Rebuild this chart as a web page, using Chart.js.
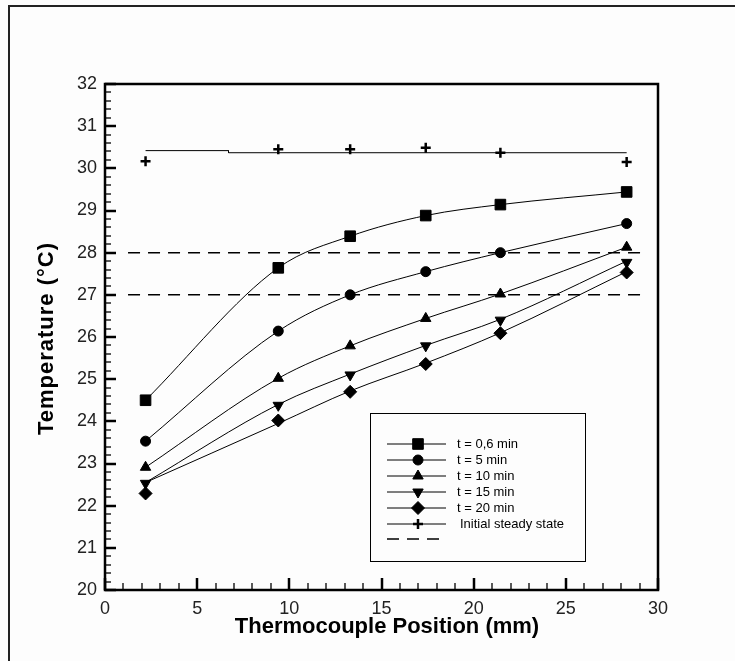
<!DOCTYPE html>
<html lang="en">
<head>
    <meta charset="UTF-8">
    <title>Thermocouple Temperatures</title>
    <script src="https://cdn.jsdelivr.net/npm/chart.js"></script>
    <style>
        html, body {
            margin: 0;
            overflow: hidden;
            background: #fdfdfd;
        }
        .chart-container {
            width: 735px;
            height: 661px;
        }
        canvas {
            display: block;
        }
    </style>
</head>
<body>
    <div class="chart-container">
        <canvas id="tempChart"></canvas>
    </div>

    <script>
        // thermocouple positions (mm)
        const positions = [2.2, 9.4, 13.3, 17.4, 21.45, 28.3];

        // measured temperatures (ºC)
        const t06 = [24.50, 27.64, 28.39, 28.88, 29.14, 29.44];
        const t5 = [23.53, 26.14, 27.00, 27.55, 28.00, 28.69];
        const t10 = [22.91, 25.02, 25.79, 26.44, 27.02, 28.13];
        const t15 = [22.53, 24.38, 25.10, 25.79, 26.40, 27.77];
        const t20 = [22.29, 24.02, 24.70, 25.36, 26.09, 27.53];
        const steady = [30.17, 30.45, 30.45, 30.49, 30.37, 30.15];

        // fitted curves that do not pass exactly through the markers
        const t15Curve = [22.55, 24.40, 25.12, 25.80, 26.42, 27.80];
        const t20Curve = [22.55, 23.95, 24.72, 25.38, 26.10, 27.55];
        const steadyLineX = [2.2, 6.7, 6.7, 28.3];
        const steadyLineY = [30.42, 30.42, 30.37, 30.37];

        // dashed reference levels
        const refLevels = [28, 27];
        const refRange = [1.25, 29.4];

        const seriesLabels = ['t = 0,6 min', 't = 5 min', 't = 10 min', 't = 15 min', 't = 20 min', 'Initial steady state'];

        const markers = [
            { style: 'rect', radius: 7.5, rotation: 0, border: 1 },
            { style: 'circle', radius: 5, rotation: 0, border: 1 },
            { style: 'triangle', radius: 6, rotation: 0, border: 1 },
            { style: 'triangle', radius: 6, rotation: 180, border: 1 },
            { style: 'rectRot', radius: 6.5, rotation: 0, border: 1 },
            { style: 'cross', radius: 5, rotation: 0, border: 2.5 },
        ];

        function pts(xs, ys) {
            return xs.map((x, i) => ({ x: x, y: ys[i] }));
        }

        const curveData = [
            pts(positions, t06),
            pts(positions, t5),
            pts(positions, t10),
            pts(positions, t15Curve),
            pts(positions, t20Curve),
        ];
        const markerData = [t06, t5, t10, t15, t20, steady].map(ys => pts(positions, ys));

        const datasets = [];
        curveData.forEach(d => {
            datasets.push({
                data: d,
                showLine: true,
                borderColor: '#000',
                borderWidth: 1,
                pointRadius: 0,
                cubicInterpolationMode: 'monotone',
            });
        });
        datasets.push({
            data: pts(steadyLineX, steadyLineY),
            showLine: true,
            borderColor: '#000',
            borderWidth: 1,
            pointRadius: 0,
            tension: 0,
        });
        refLevels.forEach(level => {
            datasets.push({
                data: refRange.map(x => ({ x: x, y: level })),
                showLine: true,
                borderColor: '#000',
                borderWidth: 1.5,
                borderDash: [12, 8],
                pointRadius: 0,
            });
        });
        markerData.forEach((d, i) => {
            const m = markers[i];
            datasets.push({
                label: seriesLabels[i],
                data: d,
                showLine: false,
                pointStyle: m.style,
                pointRadius: m.radius,
                pointRotation: m.rotation,
                pointBorderWidth: m.border,
                pointBackgroundColor: '#000',
                pointBorderColor: '#000',
            });
        });

        // inward ticks, plot frame, outer frame, titles and boxed legend
        const decorations = {
            id: 'decorations',
            beforeDraw(chart) {
                const ctx = chart.ctx;
                ctx.save();
                ctx.fillStyle = '#fdfdfd';
                ctx.fillRect(0, 0, chart.width, chart.height);
                ctx.restore();
            },
            afterDraw(chart) {
                const ctx = chart.ctx;
                const area = chart.chartArea;
                const xs = chart.scales.x;
                const ys = chart.scales.y;
                ctx.save();

                // outer frame (only top and left edges are visible)
                ctx.lineWidth = 2;
                ctx.strokeStyle = '#222';
                ctx.beginPath();
                ctx.moveTo(9, chart.height + 5);
                ctx.lineTo(9, 6);
                ctx.lineTo(chart.width + 5, 6);
                ctx.stroke();

                ctx.strokeStyle = '#000';
                // x ticks
                for (let v = 0; v <= 30; v++) {
                    const major = v % 5 === 0;
                    const px = Math.round(xs.getPixelForValue(v));
                    ctx.lineWidth = major ? 2.5 : 1.3;
                    ctx.beginPath();
                    ctx.moveTo(px, area.bottom);
                    ctx.lineTo(px, area.bottom - (major ? 12 : 7));
                    ctx.stroke();
                }
                // y ticks
                for (let k = 0; k <= 60; k++) {
                    const major = k % 5 === 0;
                    const py = Math.round(ys.getPixelForValue(20 + k * 0.2));
                    ctx.lineWidth = major ? 2.5 : 1.3;
                    ctx.beginPath();
                    ctx.moveTo(area.left, py);
                    ctx.lineTo(area.left + (major ? 11 : 6), py);
                    ctx.stroke();
                }

                // plot frame
                ctx.lineWidth = 2.5;
                ctx.strokeRect(area.left, area.top, area.right - area.left, area.bottom - area.top);

                // axis titles
                ctx.fillStyle = '#000';
                ctx.font = 'bold 22px Arial, "Liberation Sans", sans-serif';
                ctx.textAlign = 'center';
                ctx.textBaseline = 'alphabetic';
                ctx.fillText('Thermocouple Position (mm)', 387, 633);
                ctx.save();
                ctx.translate(53, 338.5);
                ctx.rotate(-Math.PI / 2);
                ctx.letterSpacing = '1px';
                ctx.fillText('Temperature (°C)', 0, 0);
                ctx.restore();

                // legend box
                ctx.lineWidth = 1;
                ctx.strokeRect(370.5, 413.5, 215, 148);
                const rowY = [444, 460, 476, 492, 508, 524];
                ctx.font = '13px Arial, "Liberation Sans", sans-serif';
                ctx.textAlign = 'left';
                ctx.textBaseline = 'middle';
                rowY.forEach((y, i) => {
                    ctx.lineWidth = 1;
                    ctx.beginPath();
                    ctx.moveTo(387, y);
                    ctx.lineTo(446, y);
                    ctx.stroke();
                    const m = markers[i];
                    ctx.fillStyle = '#000';
                    ctx.strokeStyle = '#000';
                    ctx.lineWidth = m.border;
                    Chart.helpers.drawPoint(ctx, {
                        pointStyle: m.style,
                        radius: m.radius,
                        rotation: m.rotation,
                        borderWidth: m.border,
                    }, 418, y);
                    ctx.fillStyle = '#000';
                    ctx.fillText(seriesLabels[i], i === 5 ? 460 : 457, y);
                });
                ctx.lineWidth = 1.5;
                ctx.setLineDash([12, 8]);
                ctx.beginPath();
                ctx.moveTo(387, 539);
                ctx.lineTo(446, 539);
                ctx.stroke();
                ctx.restore();
            }
        };

        const ctx = document.getElementById('tempChart').getContext('2d');
        new Chart(ctx, {
            type: 'scatter',
            data: { datasets: datasets },
            options: {
                responsive: true,
                maintainAspectRatio: false,
                animation: false,
                layout: {
                    padding: { top: 84, right: 77, left: 0, bottom: 0 },
                },
                plugins: {
                    legend: { display: false },
                    tooltip: { enabled: false },
                },
                scales: {
                    x: {
                        type: 'linear',
                        min: 0,
                        max: 30,
                        grid: { display: false, drawTicks: false },
                        border: { display: false },
                        ticks: {
                            stepSize: 5,
                            padding: 8,
                            maxRotation: 0,
                            color: '#222',
                            font: { family: 'Arial, "Liberation Sans", sans-serif', size: 18 },
                        },
                        afterFit: s => { s.height = 71; },
                    },
                    y: {
                        min: 20,
                        max: 32,
                        grid: { display: false, drawTicks: false },
                        border: { display: false },
                        ticks: {
                            stepSize: 1,
                            padding: 8,
                            color: '#222',
                            font: { family: 'Arial, "Liberation Sans", sans-serif', size: 18 },
                        },
                        afterFit: s => { s.width = 105; },
                    },
                },
            },
            plugins: [decorations],
        });
    </script>
</body>
</html>
